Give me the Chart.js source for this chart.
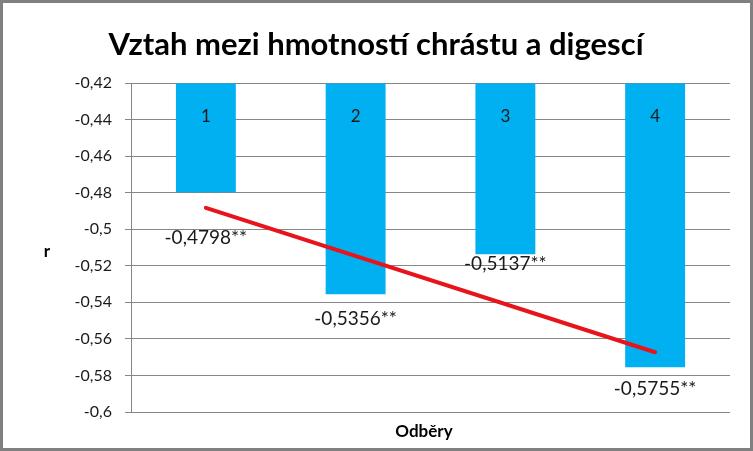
<!DOCTYPE html>
<html><head><meta charset="utf-8">
<script src="https://cdn.jsdelivr.net/npm/chart.js@4"></script>
<style>html,body{margin:0;padding:0;background:#fff}#wrap{width:753px;height:451px;position:relative}</style>
</head><body><div id="wrap"><canvas id="c"></canvas></div>
<script>
const titleText = "Vztah mezi hmotností chrástu a digescí";
const categories = ["1", "2", "3", "4"];
const values = [-0.4798, -0.5356, -0.5137, -0.5755];
const significance = ["**", "**", "**", "**"];
const trendValues = [-0.4883, null, null, -0.5673];
const yTitle = "r";
const xTitle = "Odběry";
const yMin = -0.6, yMax = -0.42, yStep = 0.02;

const FONT = "Lato, 'Open Sans', sans-serif";
const labelOffsets = [46, 25, 10, 22];

const fmt = v => String(Math.round(v * 100) / 100).replace('.', ',');

const deco = {
  id: 'deco',
  afterDraw(chart) {
    const ctx = chart.ctx;
    const ys = chart.scales.y;
    ctx.save();
    ctx.strokeStyle = '#808080'; ctx.lineWidth = 3;
    ctx.strokeRect(1.5, 1.5, chart.width - 3, chart.height - 3);
    ctx.fillStyle = '#000'; ctx.textAlign = 'center'; ctx.textBaseline = 'middle';
    ctx.font = "bold 31px " + FONT;
    ctx.fillText(titleText, 376, 45);
    ctx.font = "bold 17px " + FONT;
    ctx.fillText(yTitle, 47, 252);
    ctx.fillText(xTitle, 424, 432);
    const meta = chart.getDatasetMeta(1);
    ctx.fillStyle = '#1a1a1a';
    meta.data.forEach((el, i) => {
      ctx.font = "17px " + FONT;
      ctx.fillText(categories[i], el.x, ys.getPixelForValue(yMax) + 34);
      ctx.font = "19px " + FONT;
      ctx.fillText(values[i].toFixed(4).replace('.', ',') + significance[i], el.x, el.y + labelOffsets[i]);
    });
    ctx.restore();
  }
};

new Chart(document.getElementById('c'), {
  type: 'bar',
  data: {
    labels: categories,
    datasets: [
      { type: 'line', data: trendValues, borderColor: '#E8141B', borderWidth: 4, pointRadius: 0, spanGaps: true, order: 0, borderCapStyle: 'round' },
      { type: 'bar', data: values, base: yMax, backgroundColor: '#00B0F0', barPercentage: 0.4, categoryPercentage: 1, order: 1 }
    ]
  },
  plugins: [deco],
  options: {
    responsive: true, maintainAspectRatio: false, animation: false,
    layout: { padding: { left: 0, right: 23, top: 83, bottom: 39 } },
    plugins: { legend: { display: false }, tooltip: { enabled: false }, title: { display: false } },
    scales: {
      x: { display: false },
      y: {
        min: yMin, max: yMax,
        afterFit: s => { s.width = 131; },
        ticks: { stepSize: yStep, callback: v => fmt(v), color: '#1a1a1a', font: { family: FONT, size: 16 }, padding: 13 },
        grid: { color: '#868686', lineWidth: 1, tickLength: 6, drawTicks: true },
        border: { color: '#868686', width: 1 }
      }
    }
  }
});
</script></body></html>
